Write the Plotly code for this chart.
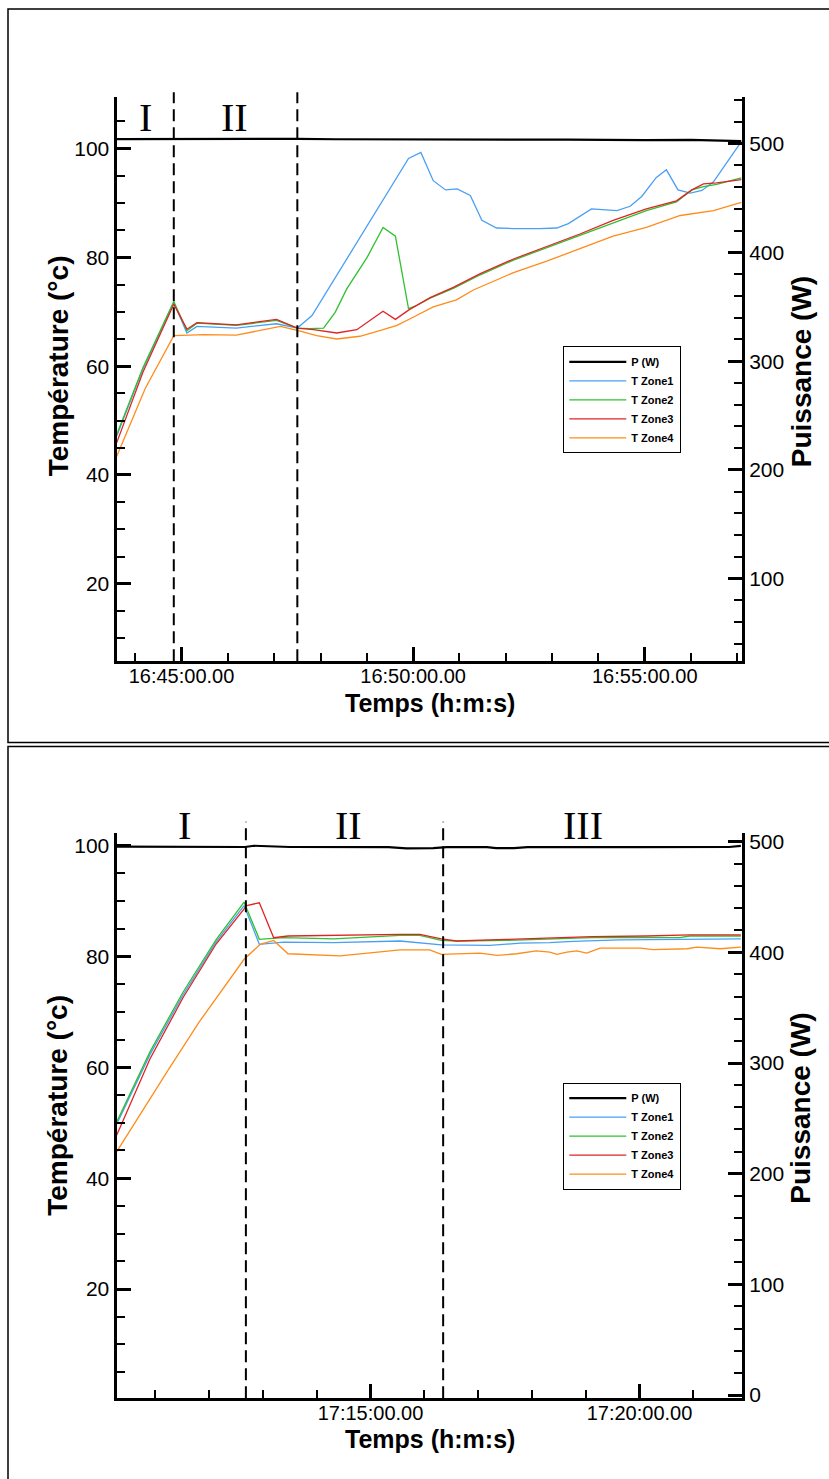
import numpy as np
import pandas as pd
import plotly.graph_objects as go

# ---------------- DATA ----------------
# Top chart: times in seconds relative to 16:45:00
TOP_REF = "2000-01-01 16:45:00"
top_p_t = [-84, 0, 30, 60, 90, 150, 200, 300, 400, 500, 600, 660, 725]
top_p = [504.2, 504.3, 504.6, 504.0, 504.3, 504.4, 504.0, 504.1, 503.6, 503.6, 503.3, 503.4, 502.3]

top_z1_t = [-84, -50, -10, 7, 20, 71, 123, 150, 169, 294, 310, 326, 342, 357, 374, 389, 408,
            430, 464, 486, 501, 531, 564, 581, 596, 615, 628, 643, 659, 674, 689, 706, 725]
top_z1 = [47.1, 59.5, 71.7, 66.1, 67.3, 67.0, 67.8, 67.0, 69.3, 98.2, 99.3, 94.1, 92.4, 92.6, 91.4,
          86.8, 85.4, 85.3, 85.3, 85.4, 86.2, 88.9, 88.6, 89.4, 91.2, 94.7, 96.1, 92.4, 91.8, 92.3,
          93.9, 97.3, 101.3]

top_z2_t = [-84, -50, -10, 7, 20, 71, 123, 150, 166, 184, 199, 214, 240, 261, 277, 294, 305, 322,
            352, 387, 430, 473, 516, 559, 602, 641, 661, 676, 693, 725]
top_z2 = [47.4, 59.7, 71.9, 66.5, 67.9, 67.5, 68.4, 67.0, 66.9, 67.0, 69.9, 74.2, 79.9, 85.5, 83.9,
          70.6, 71.2, 72.5, 74.3, 76.8, 79.5, 81.8, 84.1, 86.4, 88.6, 90.2, 92.4, 93.0, 93.4, 94.6]

top_z3_t = [-84, -50, -10, 7, 20, 71, 123, 150, 171, 201, 227, 261, 277, 294, 322, 352, 387, 430,
            473, 516, 559, 602, 641, 661, 676, 693, 725]
top_z3 = [45.9, 58.9, 71.4, 66.8, 68.0, 67.6, 68.6, 67.0, 66.7, 66.1, 66.7, 70.1, 68.6, 70.3, 72.6,
          74.5, 77.0, 79.7, 82.0, 84.3, 86.8, 88.9, 90.4, 92.4, 93.5, 93.7, 94.3]

top_z4_t = [-84, -47, -10, 30, 71, 120, 128, 150, 175, 201, 231, 261, 279, 300, 326, 356, 378, 430,
            473, 516, 559, 602, 646, 689, 725]
top_z4 = [43.4, 55.9, 65.6, 65.8, 65.7, 67.1, 67.3, 66.6, 65.6, 65.0, 65.5, 66.7, 67.5, 69.0, 70.9,
          72.2, 74.0, 77.2, 79.3, 81.6, 83.9, 85.5, 87.7, 88.6, 90.1]

top_phase_t = [-10, 150]          # dashed separators
top_label_t = [-47, 68]
top_labels = ["I", "II"]

# Bottom chart: times in seconds relative to 17:15:00
BOT_REF = "2000-01-01 17:15:00"
bot_p_t = [-283, -200, -140, -130, -110, -90, 20, 40, 70, 85, 130, 140, 160, 175, 300, 400, 413]
bot_p = [495.5, 495.2, 495.2, 496.3, 496.0, 495.2, 495.0, 494.0, 494.2, 495.0, 495.0, 494.2, 494.2,
         495.0, 495.0, 495.2, 496.2]

bot_z1_t = [-283, -246, -209, -172, -141, -124, -97, -41, 33, 79, 133, 167, 200, 226, 278, 371, 413]
bot_z1 = [49.8, 62.3, 73.1, 82.7, 89.2, 82.2, 82.6, 82.5, 82.8, 82.1, 82.0, 82.4, 82.5, 82.75, 83.0,
          83.1, 83.2]

bot_z2_t = [-283, -246, -209, -172, -141, -124, -97, -41, 33, 55, 79, 96, 152, 215, 247, 345, 356, 413]
bot_z2 = [50.2, 62.8, 73.6, 83.1, 89.8, 83.1, 83.4, 83.2, 83.8, 83.8, 82.9, 82.8, 82.9, 83.2, 83.4,
          83.4, 83.7, 83.7]

bot_z3_t = [-283, -246, -209, -172, -138, -124, -108, -92, 33, 55, 79, 96, 152, 183, 215, 247, 308,
            356, 413]
bot_z3 = [47.8, 61.5, 72.6, 82.3, 89.2, 89.7, 83.4, 83.7, 84.0, 84.0, 83.2, 82.8, 83.1, 83.3, 83.4,
          83.6, 83.7, 83.9, 83.9]

bot_z4_t = [-283, -264, -227, -191, -141, -123, -108, -92, -60, -34, 33, 66, 79, 104, 122, 141, 163,
            185, 200, 208, 219, 230, 241, 256, 301, 315, 353, 364, 390, 413]
bot_z4 = [44.8, 49.7, 59.2, 68.2, 79.5, 82.2, 82.9, 80.5, 80.3, 80.1, 81.2, 81.2, 80.4, 80.5, 80.6,
          80.2, 80.5, 81.0, 80.8, 80.4, 80.8, 81.0, 80.6, 81.5, 81.5, 81.25, 81.4, 81.7, 81.4, 81.7]

bot_phase_t = [-139, 81]
bot_label_t = [-208, -25, 237]
bot_labels = ["I", "II", "III"]

series_names = ["P (W)", "T Zone1", "T Zone2", "T Zone3", "T Zone4"]
series_colors = ["#000000", "#4a9ff5", "#2fc12f", "#e02424", "#ff8c1a"]

# ---------------- helpers ----------------
W, H = 829, 1479


def tt(ref, secs):
    return pd.Timestamp(ref) + pd.to_timedelta(np.asarray(secs, dtype=float), unit="s")


def tstr(ref, s):
    return (pd.Timestamp(ref) + pd.Timedelta(seconds=s)).strftime("%Y-%m-%d %H:%M:%S.%f")


def px_x(p):
    return p / W


def px_y(p):
    return 1 - p / H


FONT = "Liberation Sans, Arial, sans-serif"
SERIF = "Liberation Serif, Times New Roman, serif"

xdom = [px_x(116.5), px_x(742)]
top_dom = [px_y(663.3), px_y(95)]
bot_dom = [px_y(1405.7), px_y(836.7)]

fig = go.Figure()

top_sets = [(top_p_t, top_p), (top_z1_t, top_z1), (top_z2_t, top_z2), (top_z3_t, top_z3),
            (top_z4_t, top_z4)]
bot_sets = [(bot_p_t, bot_p), (bot_z1_t, bot_z1), (bot_z2_t, bot_z2), (bot_z3_t, bot_z3),
            (bot_z4_t, bot_z4)]

for i, (t, v) in enumerate(top_sets):
    fig.add_trace(go.Scatter(
        x=tt(TOP_REF, t), y=v, mode="lines", name=series_names[i],
        line=dict(color=series_colors[i], width=2.2 if i == 0 else 1.3),
        xaxis="x", yaxis="y2" if i == 0 else "y", legend="legend"))

for i, (t, v) in enumerate(bot_sets):
    fig.add_trace(go.Scatter(
        x=tt(BOT_REF, t), y=v, mode="lines", name=series_names[i],
        line=dict(color=series_colors[i], width=2.2 if i == 0 else 1.3),
        xaxis="x2", yaxis="y4" if i == 0 else "y3", legend="legend2"))

axis_common = dict(showline=True, linewidth=3, linecolor="black", showgrid=False, zeroline=False,
                   ticks="inside", ticklen=14, tickwidth=3, tickcolor="black",
                   tickfont=dict(family=FONT, size=21, color="black"))
x_common = dict(axis_common, tickfont=dict(family=FONT, size=20, color="black"), ticklabelstandoff=-5)
minor_y = dict(ticks="inside", ticklen=8, tickwidth=1.5, tickcolor="black")

fig.update_layout(
    width=W, height=H, autosize=False,
    margin=dict(l=0, r=0, t=0, b=0),
    paper_bgcolor="white", plot_bgcolor="white",
    font=dict(family=FONT, color="black"),
    xaxis=dict(domain=xdom, anchor="y", type="date",
               range=[tstr(TOP_REF, -84.2), tstr(TOP_REF, 725.9)],
               tick0=TOP_REF, dtick=300000, tickformat="%H:%M:%S.00",
               minor=dict(minor_y, dtick=60000, tick0=TOP_REF),
               **x_common),
    yaxis=dict(domain=top_dom, anchor="x", range=[5.73, 109.43], tick0=0, dtick=20,
               minor=dict(minor_y, dtick=5, tick0=0), **axis_common),
    yaxis2=dict(overlaying="y", anchor="x", side="right", range=[24.0, 542.6], tick0=0, dtick=100,
                minor=dict(minor_y, dtick=20, tick0=0), **axis_common),
    xaxis2=dict(domain=xdom, anchor="y3", type="date",
                range=[tstr(BOT_REF, -283.3), tstr(BOT_REF, 414.3)],
                tick0=BOT_REF, dtick=300000, tickformat="%H:%M:%S.00",
                minor=dict(minor_y, dtick=60000, tick0=BOT_REF),
                **x_common),
    yaxis3=dict(domain=bot_dom, anchor="x2", range=[0.3, 102.2], tick0=0, dtick=20,
                minor=dict(minor_y, dtick=5, tick0=0), **axis_common),
    yaxis4=dict(overlaying="y3", anchor="x2", side="right", range=[-2.9, 507.4], tick0=0, dtick=100,
                minor=dict(minor_y, dtick=20, tick0=0), **axis_common),
    legend=dict(x=px_x(563.3), y=px_y(346), xanchor="left", yanchor="top",
                bgcolor="white", bordercolor="black", borderwidth=1, tracegroupgap=0,
                font=dict(family=FONT, size=11, color="black", weight="bold"), itemwidth=57),
    legend2=dict(x=px_x(563.3), y=px_y(1087.7), xanchor="left", yanchor="top",
                 bgcolor="white", bordercolor="black", borderwidth=1, tracegroupgap=0,
                 font=dict(family=FONT, size=11, color="black", weight="bold"), itemwidth=57),
    showlegend=True,
)

shapes = []
# panel frames
shapes.append(dict(type="rect", xref="paper", yref="paper", x0=px_x(8), x1=1.01,
                   y0=px_y(745), y1=px_y(6), line=dict(color="black", width=1.5)))
shapes.append(dict(type="rect", xref="paper", yref="paper", x0=px_x(8), x1=1.01,
                   y0=-0.01, y1=px_y(749), line=dict(color="black", width=1.5)))
# phase separators
for t in top_phase_t:
    shapes.append(dict(type="line", xref="x", yref="paper", x0=tstr(TOP_REF, t), x1=tstr(TOP_REF, t),
                       y0=top_dom[0], y1=px_y(90), line=dict(color="black", width=2, dash="12px,6px")))
for t in bot_phase_t:
    shapes.append(dict(type="line", xref="x2", yref="paper", x0=tstr(BOT_REF, t), x1=tstr(BOT_REF, t),
                       y0=bot_dom[0], y1=px_y(825), line=dict(color="black", width=2, dash="12px,6px")))
fig.update_layout(shapes=shapes)

ann = []
for t, lab in zip(top_label_t, top_labels):
    ann.append(dict(x=tstr(TOP_REF, t), y=px_y(115), xref="x", yref="paper", text=lab, showarrow=False,
                    font=dict(family=SERIF, size=40, color="black"), xanchor="center", yanchor="middle"))
for t, lab in zip(bot_label_t, bot_labels):
    ann.append(dict(x=tstr(BOT_REF, t), y=px_y(828.5), xref="x2", yref="paper", text=lab, showarrow=False,
                    font=dict(family=SERIF, size=40, color="black"), xanchor="center", yanchor="middle"))

title_font = dict(family=FONT, size=28, color="black")
for yc_l, yc_r, yc_x in [(366, 372, 705), (1111, 1114, 1447)]:
    ann.append(dict(x=px_x(58), y=px_y(yc_l), xref="paper", yref="paper", text="<b>Température (°c)</b>",
                    textangle=-90, showarrow=False, font=title_font, xanchor="center", yanchor="middle"))
    ann.append(dict(x=px_x(801), y=px_y(yc_r), xref="paper", yref="paper", text="<b>Puissance (W)</b>",
                    textangle=-90, showarrow=False, font=title_font, xanchor="center", yanchor="middle"))
    ann.append(dict(x=px_x(430), y=px_y(yc_x), xref="paper", yref="paper", text="<b>Temps (h:m:s)</b>",
                    showarrow=False, font=dict(family=FONT, size=25, color="black"),
                    xanchor="center", yanchor="middle"))
fig.update_layout(annotations=ann)

fig.write_html("out.html",
               config={"displayModeBar": False},
               post_script="document.body.style.margin='0';document.body.style.padding='0';"
                           "document.documentElement.style.overflow='hidden';")
